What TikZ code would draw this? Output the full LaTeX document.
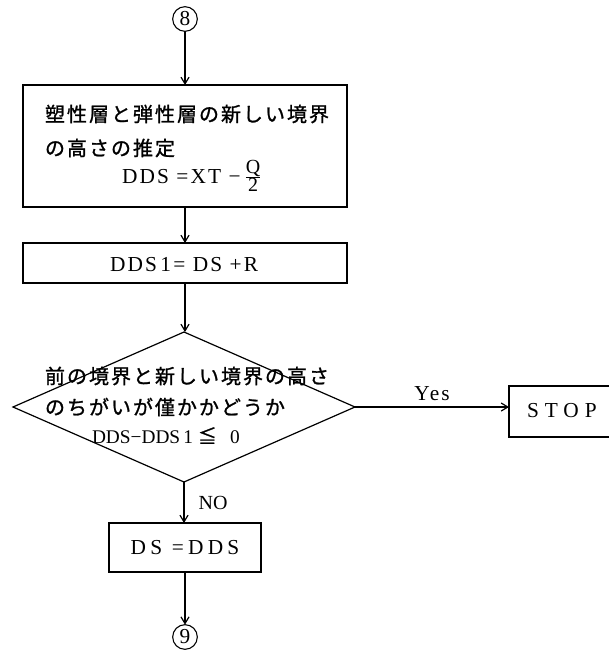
\documentclass[tikz,border=0pt]{standalone}
\usepackage{fontspec}
\setmainfont{Liberation Serif}
\newfontfamily\jp[LetterSpace=10,FakeBold=1.2]{Noto Sans CJK JP}
\newfontfamily\jpplain[FakeBold=1.2]{Noto Sans CJK JP}
\newfontfamily\lsp[LetterSpace=10]{Liberation Serif}
\newfontfamily\lspm[LetterSpace=20]{Liberation Serif}
\newfontfamily\lspw[LetterSpace=28]{Liberation Serif}
\usetikzlibrary{arrows.meta,shapes.geometric}
\begin{document}
\begin{tikzpicture}[x=0.75pt,y=-0.75pt,
  every node/.style={inner sep=0pt, outer sep=0pt},
  box/.style={draw, line width=0.9pt, rectangle},
  conn/.style={line width=0.9pt, -{Straight Barb[length=5pt,width=6pt]}},
  jtext/.style={font=\fontsize{15}{16}\jp, anchor=west},
  ltext/.style={font=\fontsize{16}{18}\lsp, anchor=base west},
  circ/.style={draw, circle, line width=0.8pt, minimum size=18.5pt, font=\fontsize{16}{16}\selectfont},
  ]
\useasboundingbox (0,0) rectangle (609,657);
\begin{scope}
\clip (0,0) rectangle (609,657);

% start connector
\node[circ] (c8) at (185,19) {8};

% box 1
\node[box, minimum width=243pt, minimum height=91.5pt] (box1) at (185,146) {};
\node[jtext] (b1l1) at (45,114) {塑性層と弾性層の新しい境界};
\node[jtext] (b1l2) at (45,148) {の高さの推定};
\node[ltext] (b1l3) at (122,183) {DDS =XT −\,$\frac{\mbox{\fontsize{15}{15}\selectfont Q}}{\mbox{\fontsize{15}{15}\selectfont 2}}$};

% box 2
\node[box, minimum width=243pt, minimum height=30pt] (box2) at (185,263) {};
\node[ltext] (b2t) at (110,271) {DDS\,1= DS +R};

% decision
\node[draw, diamond, line width=0.9pt, minimum width=256.5pt, minimum height=112.5pt] (dec) at (184,407) {};
\node[jtext] (dl1) at (45,376) {前の境界と新しい境界の高さ};
\node[jtext] (dl2) at (45,407) {のちがいが僅かかどうか};
\node[ltext, font=\fontsize{14.5}{16}\selectfont] (dl3) at (92,443) {DDS−DDS\,1 {\fontsize{14}{14}\jpplain ≦}\;\, 0};

% stop box (cut at right edge)
\node[box, minimum width=90pt, minimum height=38.25pt, anchor=west] (stop) at (509,411.5) {};
\node[font=\fontsize{16}{16}\lspw, anchor=west] (stopt) at (527,411) {STOP};

% box 3
\node[box, minimum width=114pt, minimum height=36.75pt, font=\fontsize{16}{16}\lspm] (box3) at (185,547.5) {DS =DDS};

% end connector
\node[circ] (c9) at (185,637) {9};
\end{scope}

% connectors
\draw[conn] (c8) -- (box1);
\draw[conn] (box1) -- (box2);
\draw[conn] (box2.south) -- (box2.south |- dec.north);
\draw[conn] (dec.east) -- (dec.east -| stop.west) node[midway, above=5pt, font=\fontsize{16}{16}\lsp] (yes) {Yes};
\draw[conn] (dec.south) -- (dec.south |- box3.north) node[midway, right=11pt, font=\fontsize{15}{15}\selectfont] (no) {NO};
\draw[conn] (box3) -- (c9);
\end{tikzpicture}
\end{document}
